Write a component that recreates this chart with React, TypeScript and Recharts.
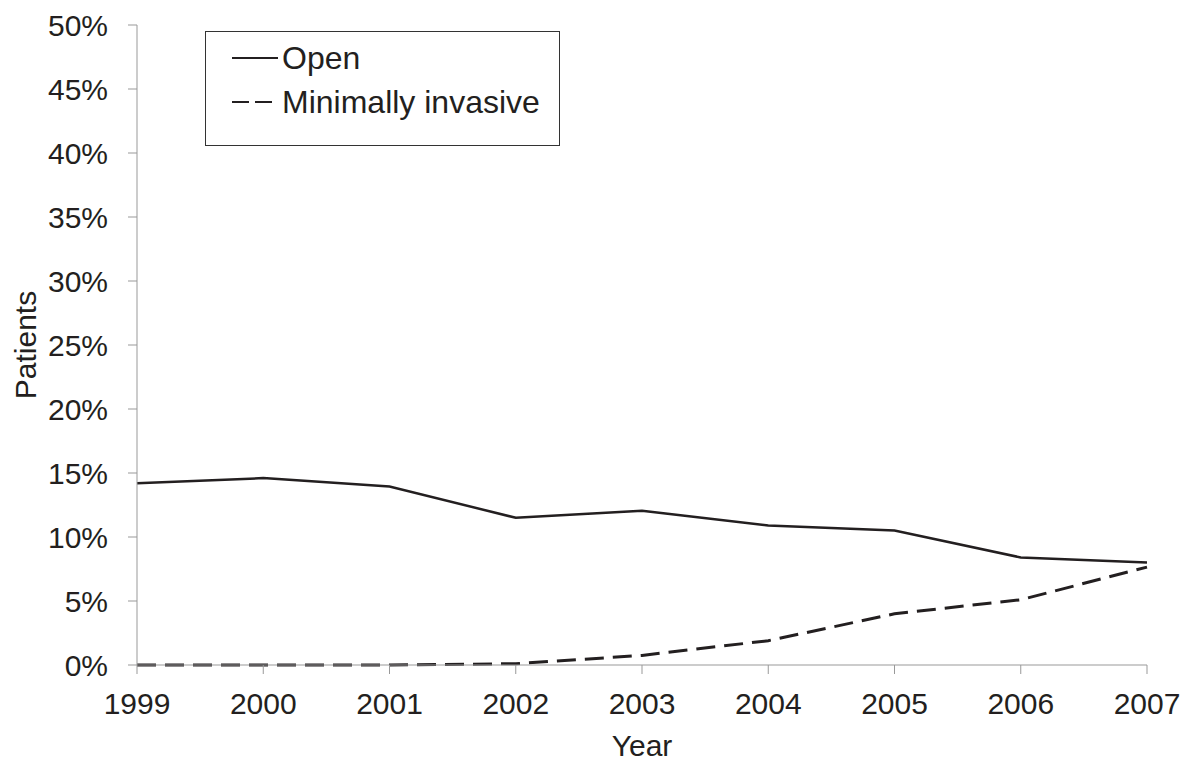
import React from 'react';
import { LineChart, Line, XAxis, YAxis } from 'recharts';

const years = ['1999', '2000', '2001', '2002', '2003', '2004', '2005', '2006', '2007'];
const openValues = [14.2, 14.6, 13.95, 11.5, 12.05, 10.9, 10.5, 8.4, 8.0];
const minimallyInvasiveValues = [0, 0, 0, 0.1, 0.75, 1.9, 4.0, 5.1, 7.65];
const yTicks = [0, 5, 10, 15, 20, 25, 30, 35, 40, 45, 50];
const seriesNames = ['Open', 'Minimally invasive'];

const data = years.map((y, i) => ({
  year: y,
  open: openValues[i],
  mis: minimallyInvasiveValues[i],
}));

const FONT = '"Liberation Sans", Arial, sans-serif';
const TEXT = '#231f20';
const AXIS = '#999999';

const LegendBox = () => (
  <div
    style={{
      position: 'absolute',
      left: 205,
      top: 31,
      width: 353,
      height: 113,
      border: '1px solid #333',
      background: '#fff',
      fontFamily: FONT,
      fontSize: 32,
      color: TEXT,
    }}
  >
    {seriesNames.map((name, i) => (
      <div
        key={name}
        style={{
          position: 'absolute',
          left: 26,
          top: 7 + i * 44,
          height: 38,
          display: 'flex',
          alignItems: 'center',
          whiteSpace: 'nowrap',
        }}
      >
        <svg width={46} height={10} style={{ marginRight: 4 }}>
          <line
            x1={0}
            y1={5}
            x2={46}
            y2={5}
            stroke={TEXT}
            strokeWidth={2}
            strokeDasharray={i === 1 ? '17 6' : undefined}
          />
        </svg>
        <span>{name}</span>
      </div>
    ))}
  </div>
);

export default function App() {
  return (
    <div style={{ position: 'absolute', left: 0, top: 0, width: 1196, height: 761, background: '#fff' }}>
      <LineChart
        width={1196}
        height={761}
        data={data}
        margin={{ top: 25, right: 49, bottom: 0, left: 0 }}
      >
        <XAxis
          dataKey="year"
          height={96}
          stroke={AXIS}
          tickSize={9}
          tickMargin={19}
          tickLine={{ stroke: AXIS }}
          axisLine={{ stroke: AXIS }}
          tick={{ fill: TEXT, fontSize: 30, fontFamily: FONT }}
          interval={0}
          padding={{ left: 0, right: 0 }}
          label={{
            value: 'Year',
            position: 'center',
            dy: 32,
            fill: TEXT,
            fontSize: 30,
            fontFamily: FONT,
          }}
        />
        <YAxis
          width={137}
          domain={[0, 50]}
          ticks={yTicks}
          stroke={AXIS}
          tickSize={9}
          tickMargin={20}
          tickLine={{ stroke: AXIS }}
          axisLine={{ stroke: AXIS }}
          tickFormatter={(v: number) => `${v}%`}
          tick={{ fill: TEXT, fontSize: 30, fontFamily: FONT }}
          interval={0}
          label={{
            value: 'Patients',
            angle: -90,
            position: 'center',
            dx: -43,
            fill: TEXT,
            fontSize: 30,
            fontFamily: FONT,
          }}
        />
        <Line
          name={seriesNames[0]}
          dataKey="open"
          stroke={TEXT}
          strokeWidth={2.5}
          dot={false}
          activeDot={false}
          isAnimationActive={false}
        />
        <Line
          name={seriesNames[1]}
          dataKey="mis"
          stroke={TEXT}
          strokeWidth={3}
          strokeDasharray="19 9"
          dot={false}
          activeDot={false}
          isAnimationActive={false}
        />
      </LineChart>
      <LegendBox />
    </div>
  );
}
